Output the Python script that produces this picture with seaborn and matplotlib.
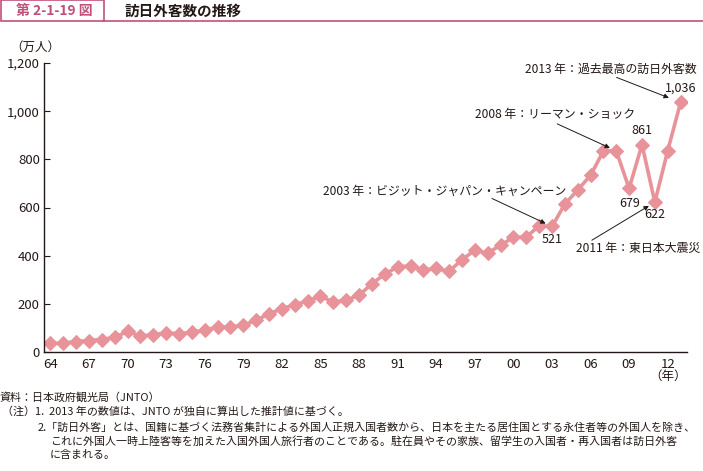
""" 訪日外客数の推移 (1964-2013) """

import matplotlib
matplotlib.use("Agg")
import matplotlib.pyplot as plt
import seaborn as sns
import pandas as pd
from matplotlib.patches import Rectangle
from matplotlib.lines import Line2D

# visitors to Japan, 10,000 persons
years = list(range(1964, 2014))
visitors = [
    35.3, 36.7, 43.3, 47.7, 51.9, 60.9, 85.4, 66.0, 72.4, 78.5,
    76.4, 81.2, 91.5, 102.8, 103.8, 111.3, 131.7, 158.3, 179.3, 196.8,
    211.0, 232.7, 206.2, 215.6, 235.5, 283.5, 323.6, 353.3, 358.1, 341.0,
    346.8, 334.5, 383.7, 421.8, 410.6, 443.8, 475.7, 477.2, 523.9, 521.2,
    613.8, 672.8, 733.4, 834.7, 835.1, 679.0, 861.1, 621.9, 835.8, 1036.4,
]
tick_years = list(range(1964, 2014, 3))
tick_labels = ["{:02d}".format(y % 100) for y in tick_years]
y_ticks = [0, 200, 400, 600, 800, 1000, 1200]

value_labels = {2013: "1,036", 2010: "861", 2009: "679", 2011: "622", 2003: "521"}
events = {
    2013: "2013 年：過去最高の訪日外客数",
    2008: "2008 年：リーマン・ショック",
    2003: "2003 年：ビジット・ジャパン・キャンペーン",
    2011: "2011 年：東日本大震災",
}

notes = [
    "資料：日本政府観光局（JNTO）",
    "（注）1.  2013 年の数値は、JNTO が独自に算出した推計値に基づく。",
    "2.「訪日外客」とは、国籍に基づく法務省集計による外国人正規入国者数から、日本を主たる居住国とする永住者等の外国人を除き、",
    "これに外国人一時上陸客等を加えた入国外国人旅行者のことである。駐在員やその家族、留学生の入国者・再入国者は訪日外客",
    "に含まれる。",
]

sns.set_style("white")
plt.rcParams["font.family"] = ["Noto Sans CJK JP", "DejaVu Sans"]

LINE = "#E8939A"
ACCENT = "#C0507A"
INK = "#231815"
W, H = 703, 471

fig = plt.figure(figsize=(W / 100, H / 100), dpi=100)


def fx(x):
    return x / W


def fy(y):
    return 1 - y / H


ax = fig.add_axes([fx(44), fy(352), fx(687 - 44), (352 - 63) / H])

df = pd.DataFrame({"year": years, "visitors": visitors})
sns.lineplot(data=df, x="year", y="visitors", ax=ax, color=LINE, lw=2.6,
             marker="D", markersize=7, markeredgecolor=LINE)

ax.set_xlim(1963.5, 2013.5)
ax.set_ylim(0, 1200)
ax.set_xlabel("")
ax.set_ylabel("")
ax.set_xticks(tick_years)
ax.set_xticklabels(tick_labels)
ax.set_xticks([y - 0.5 for y in years] + [2013.5], minor=True)
ax.tick_params(axis="x", which="major", length=0, labelsize=9.5, pad=4, colors=INK)
ax.tick_params(axis="x", which="minor", direction="in", length=4, width=0.8, color=INK)
ax.set_yticks(y_ticks)
ax.set_yticklabels(["{:,}".format(v) for v in y_ticks])
ax.tick_params(axis="y", direction="in", length=4, width=0.8, labelsize=9.5, pad=3,
               colors=INK, left=True)
for side in ["top", "right"]:
    ax.spines[side].set_visible(False)
for side in ["left", "bottom"]:
    ax.spines[side].set_color(INK)
    ax.spines[side].set_linewidth(1.0)

vals = dict(zip(years, visitors))

# value labels
label_offsets = {2013: 14, 2010: 14, 2009: -15, 2011: -12, 2003: -13}
for yr, txt in value_labels.items():
    ax.annotate(txt, xy=(yr, vals[yr]), xytext=(0, label_offsets[yr]),
                textcoords="offset pixels", ha="center", va="center",
                fontsize=9, color=INK)

# event annotations: text offset, alignment, arrow start offset, arrow gap (pixels)
event_layout = {
    2013: ((16, 33), "right", (-64, 25), 9),
    2008: ((-61, 36), "center", (-59, 27), 5),
    2003: ((14, 35), "right", (-60, 28), 5),
    2011: ((45, -46), "right", (-63, -38), 5),
}
for yr, txt in events.items():
    toff, ha, aoff, gap = event_layout[yr]
    ax.annotate(txt, xy=(yr, vals[yr]), xytext=toff, textcoords="offset pixels",
                ha=ha, va="center", fontsize=8.6, color=INK)
    ax.annotate("", xy=(yr, vals[yr]), xytext=aoff, textcoords="offset pixels",
                arrowprops=dict(arrowstyle="-|>", color=INK, lw=0.7,
                                mutation_scale=7, shrinkA=0, shrinkB=gap))

# axis unit labels
fig.text(fx(10), fy(47), "（万人）", fontsize=9, ha="left", va="center", color=INK)
fig.text(fx(668), fy(376), "（年）", fontsize=9, ha="center", va="center", color=INK)

# title bar
fig.add_artist(Line2D([fx(103), 1], [fy(21), fy(21)], color=ACCENT, lw=1.2))
fig.add_artist(Rectangle((fx(0.5), fy(21)), fx(103), 21 / H, fill=False,
                         edgecolor=ACCENT, lw=1.2))
fig.text(fx(16), fy(11), "第 2-1-19 図", fontsize=10, fontweight="bold",
         color=ACCENT, ha="left", va="center")
fig.text(fx(125), fy(11), "訪日外客数の推移", fontsize=10.5, fontweight="bold",
         color=INK, ha="left", va="center")

# notes
note_pos = [(0, 397), (2, 412), (38, 427), (50, 441), (50, 455)]
for (x, y), txt in zip(note_pos, notes):
    fig.text(fx(x), fy(y), txt, fontsize=7.9, ha="left", va="center", color=INK)

fig.savefig("out.png", dpi=100)
